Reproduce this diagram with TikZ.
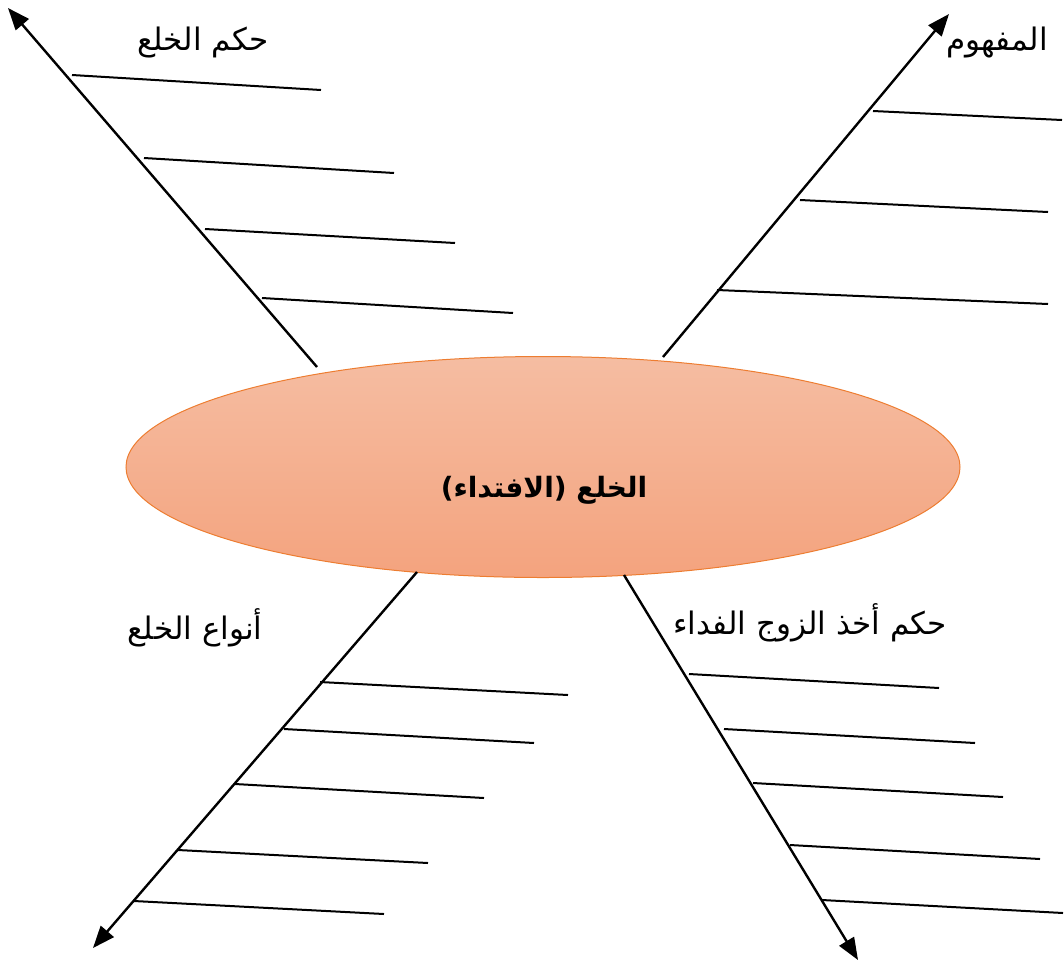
\documentclass[tikz,border=0pt]{standalone}
\usepackage{fontspec}
\usetikzlibrary{arrows.meta,shapes.geometric}
\TeXXeTstate=1
\newfontfamily\arabicfont[Script=Arabic]{DejaVu Sans}
\definecolor{eltop}{HTML}{F5BDA2}
\definecolor{elbot}{HTML}{F4A37E}
\definecolor{elborder}{HTML}{ED7D31}
\tikzset{
  spine/.style={line width=2.4pt,-{Triangle[length=22pt,width=17pt]}},
  rib/.style={line width=2pt},
  lbl/.style={font=\arabicfont\fontsize{31}{36}\selectfont,inner sep=0pt},
}
\begin{document}
\begin{tikzpicture}[x=1pt,y=-1pt]
\useasboundingbox (0,0) rectangle (1064,967);
\node[ellipse,draw=elborder,line width=1pt,top color=eltop,bottom color=elbot,minimum width=834pt,minimum height=221pt,inner sep=0pt] (e) at (543,467) {};
\node[font=\arabicfont\bfseries\fontsize{28}{34}\selectfont,inner sep=0pt] (c) at (544,490) {\beginR الخلع (الافتداء)\endR};
% spines
\coordinate (ul0) at (317,367); \coordinate (ul1) at (8,8);
\coordinate (ur0) at (663,357); \coordinate (ur1) at (949,14);
\coordinate (ll0) at (417,572); \coordinate (ll1) at (93,948);
\coordinate (lr0) at (624,575); \coordinate (lr1) at (858,960);
\draw[spine] (ul0) -- (ul1);
\draw[spine] (ur0) -- (ur1);
\draw[spine] (ll0) -- (ll1);
\draw[spine] (lr0) -- (lr1);
% ribs upper-left
\foreach \i/\a/\b/\c/\d in {1/72/75/321/90, 2/144/158/394/173, 3/205/229/455/243, 4/262/298/513/313}{
  \coordinate (ula\i) at (\a,\b); \coordinate (ulb\i) at (\c,\d);
  \draw[rib] (ula\i) -- (ulb\i);}
% ribs upper-right
\foreach \i/\a/\b/\c/\d in {1/873/111/1062/120, 2/800/200/1048/212, 3/717/290/1048/304}{
  \coordinate (ura\i) at (\a,\b); \coordinate (urb\i) at (\c,\d);
  \draw[rib] (ura\i) -- (urb\i);}
% ribs lower-left
\foreach \i/\a/\b/\c/\d in {1/320/682/568/695, 2/284/729/534/743, 3/235/784/484/798, 4/178/850/428/863, 5/134/901/384/914}{
  \coordinate (lla\i) at (\a,\b); \coordinate (llb\i) at (\c,\d);
  \draw[rib] (lla\i) -- (llb\i);}
% ribs lower-right
\foreach \i/\a/\b/\c/\d in {1/689/674/939/688, 2/724/729/975/743, 3/753/783/1003/797, 4/790/845/1040/859, 5/822/900/1063/913}{
  \coordinate (lra\i) at (\a,\b); \coordinate (lrb\i) at (\c,\d);
  \draw[rib] (lra\i) -- (lrb\i);}
% labels
\node[lbl] (t1) at (203,43) {\beginR حكم الخلع\endR};
\node[lbl] (t2) at (997,43) {\beginR المفهوم\endR};
\node[lbl] (t3) at (195,628) {\beginR أنواع الخلع\endR};
\node[lbl] (t4) at (810,623) {\beginR حكم أخذ الزوج الفداء\endR};
\end{tikzpicture}
\end{document}
